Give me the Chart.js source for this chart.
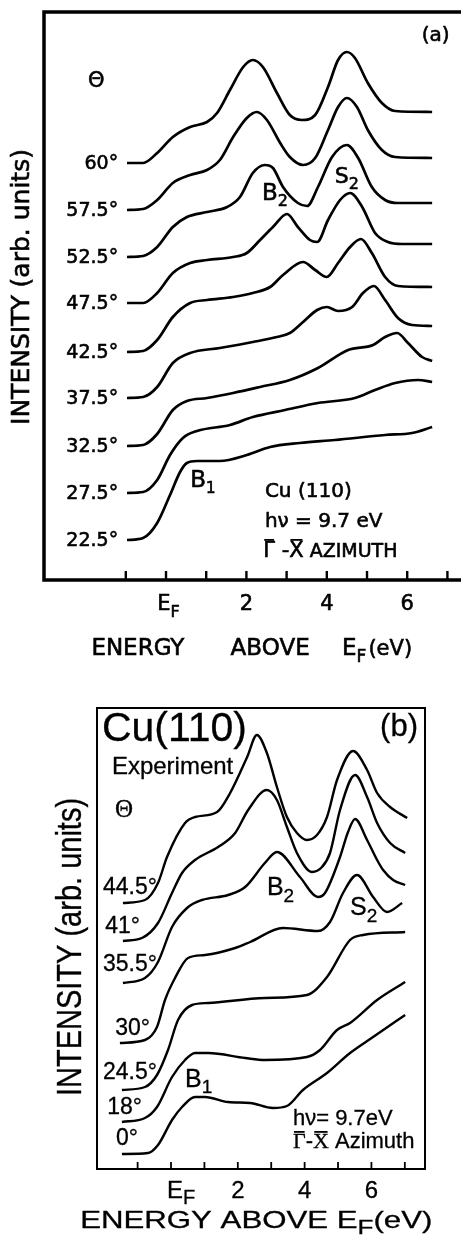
<!DOCTYPE html>
<html>
<head>
<meta charset="utf-8">
<script src="https://cdn.jsdelivr.net/npm/chart.js@4.4.1/dist/chart.umd.min.js"></script>
<style>
  html, body { margin: 0; padding: 0; background: #fff; }
  #wrap { position: relative; width: 461px; height: 1239px; overflow: hidden; }
  canvas { position: absolute; left: 0; }
  #chartA { top: 0; }
  #chartB { top: 680px; }
</style>
</head>
<body>
<div id="wrap">
  <canvas id="chartA" width="461" height="680"></canvas>
  <canvas id="chartB" width="461" height="559"></canvas>
</div>
<script>
// ---- panel (a): spectra as [energy above EF (eV), intensity above own baseline]
const anglesA = ['60°', '57.5°', '52.5°', '47.5°', '42.5°', '37.5°', '32.5°', '27.5°', '22.5°'];
const offsetsA = [41.7, 37.0, 32.3, 27.7, 22.8, 18.2, 13.4, 8.7, 4.0];

const a60 = [[-0.97,0],[-0.57,0],[-0.22,1.0],[0.17,2.6],[0.60,3.6],[1.02,4.1],[1.27,5.0],[1.59,7.3],[1.92,9.6],[2.16,10.3],[2.41,9.6],[2.76,7.0],[3.08,4.8],[3.38,4.3],[3.71,4.8],[4.03,7.6],[4.28,10.3],[4.50,11.1],[4.70,10.5],[5.02,8.0],[5.37,6.0],[5.70,5.2],[6.62,5.1]];
const a57 = [[-0.97,0],[-0.57,0.1],[-0.22,1.0],[0.17,2.7],[0.60,3.5],[1.02,4.0],[1.34,5.0],[1.67,7.3],[2.01,9.2],[2.26,9.8],[2.51,9.0],[2.84,6.7],[3.08,5.3],[3.41,4.5],[3.71,5.2],[4.03,8.0],[4.28,10.3],[4.50,11.2],[4.75,10.3],[5.02,8.0],[5.37,6.0],[5.70,5.3],[6.62,5.2]];
const a52 = [[-0.97,0],[-0.57,0.1],[-0.22,1.0],[0.17,3.0],[0.52,4.0],[1.02,4.5],[1.52,5.0],[1.84,6.0],[2.16,8.4],[2.46,9.2],[2.66,8.9],[2.91,7.0],[3.28,5.4],[3.51,5.1],[3.78,7.0],[4.13,10.0],[4.50,11.2],[4.78,9.9],[5.12,7.0],[5.45,5.7],[5.77,5.4],[6.62,5.4]];
const a47 = [[-0.97,0],[-0.57,0],[-0.22,1.0],[0.17,3.0],[0.60,4.0],[1.02,4.3],[1.67,4.6],[2.01,5.0],[2.34,6.3],[2.66,7.6],[3.01,8.9],[3.28,7.6],[3.58,6.3],[3.76,6.1],[4.03,8.3],[4.33,10.3],[4.58,11.0],[4.88,9.6],[5.20,7.0],[5.52,6.1],[5.87,5.9],[6.62,5.9]];
const a42 = [[-0.97,0],[-0.57,0.1],[-0.22,1.2],[0.17,3.5],[0.60,4.9],[1.02,5.2],[1.67,5.5],[2.16,5.9],[2.59,6.5],[2.91,7.7],[3.41,9.0],[3.71,8.2],[4.00,7.5],[4.28,8.9],[4.58,10.5],[4.85,11.3],[5.12,9.9],[5.45,7.5],[5.77,6.6],[6.62,6.5]];
const a37 = [[-0.97,0],[-0.57,0.1],[-0.22,1.1],[0.17,3.5],[0.60,4.5],[1.34,5.0],[2.16,5.6],[2.76,6.1],[3.08,6.5],[3.38,7.5],[3.76,8.8],[4.00,9.1],[4.28,8.7],[4.63,9.1],[4.90,10.5],[5.17,11.2],[5.45,9.8],[5.77,8.0],[6.12,7.3],[6.62,7.2]];
const a32 = [[-0.97,0],[-0.57,0.1],[-0.22,1.2],[0.17,3.6],[0.52,4.5],[1.02,4.8],[1.67,5.3],[2.34,5.9],[3.08,6.6],[3.78,7.8],[4.53,9.6],[5.15,10.1],[5.45,10.9],[5.75,11.3],[6.02,10.3],[6.37,8.9],[6.62,8.5]];
const a27 = [[-0.97,0],[-0.57,0.1],[-0.22,1.3],[0.10,3.8],[0.42,5.5],[0.77,6.2],[1.59,6.8],[2.16,7.6],[2.96,8.3],[3.78,9.0],[4.70,9.5],[5.20,10.3],[5.70,11.0],[6.27,11.3],[6.62,11.1]];
const a22 = [[-0.97,0],[-0.57,0.2],[-0.22,1.7],[0.10,4.5],[0.35,6.8],[0.52,7.7],[0.77,7.9],[1.34,7.9],[2.01,8.5],[2.59,9.3],[3.33,9.7],[4.20,10.0],[5.45,10.5],[6.12,10.7],[6.62,11.3]];
const specsA = [a60, a57, a52, a47, a42, a37, a32, a27, a22];

// ---- panel (b): experiment
const anglesB = ['44.5°', '41°', '35.5°', '30°', '24.5°', '18°', '0°'];
const offsetsB = [26.6, 22.8, 18.6, 12.6, 7.9, 4.7, 1.5];

const b44 = [[-1.44,0],[-0.78,0.3],[-0.39,2.0],[-0.12,4.6],[0.42,8.0],[0.72,8.6],[1.38,9.1],[1.77,11.0],[2.28,14.6],[2.57,16.8],[2.87,15.0],[3.17,11.6],[3.47,8.6],[3.77,7.0],[4.07,6.3],[4.37,6.8],[4.67,8.6],[4.97,12.3],[5.45,15.2],[5.87,13.3],[6.17,11.0],[6.56,9.6],[7.07,8.5]];
const b41 = [[-1.44,0],[-0.87,0.3],[-0.39,1.8],[0.03,4.8],[0.33,6.8],[0.72,8.1],[1.41,9.4],[1.92,10.8],[2.31,13.1],[2.87,15.1],[3.17,14.1],[3.47,11.4],[3.77,8.8],[4.22,6.9],[4.52,7.4],[4.76,8.8],[5.06,13.1],[5.51,16.6],[5.87,14.4],[6.17,11.8],[6.56,9.8],[7.01,8.8]];
const b35 = [[-1.44,0],[-0.78,0.5],[-0.39,2.1],[0.03,5.6],[0.48,7.5],[0.93,8.3],[1.71,8.8],[2.22,9.6],[2.81,12.0],[3.17,13.1],[3.86,10.6],[4.40,8.6],[4.61,9.0],[5.06,12.6],[5.30,15.1],[5.51,16.4],[5.87,14.3],[6.17,12.3],[6.35,11.3],[6.65,10.3],[7.01,9.8]];
const b30 = [[-1.53,0],[-0.78,0.3],[-0.42,1.6],[-0.18,4.3],[0.12,6.5],[0.51,8.5],[1.02,8.8],[1.92,9.5],[2.37,10.1],[3.35,11.5],[4.40,11.2],[4.76,12.1],[5.15,15.0],[5.57,16.8],[6.05,14.6],[6.47,13.1],[6.92,14.0]];
const b24 = [[-1.47,0],[-0.78,0.3],[-0.42,1.5],[-0.09,4.0],[0.21,7.0],[0.63,8.5],[1.11,8.7],[2.81,9.2],[4.07,9.5],[4.67,11.3],[5.36,15.0],[5.75,15.5],[7.01,15.8]];
const b18 = [[-1.47,0],[-0.78,0.4],[-0.42,1.5],[0.03,4.5],[0.42,6.2],[0.72,6.9],[1.11,6.9],[2.22,6.4],[2.81,6.2],[4.07,6.5],[4.46,7.2],[4.97,9.2],[5.36,9.9],[6.17,12.2],[7.01,14.0]];
const b0 = [[-1.47,0],[-0.69,0.1],[-0.39,0.9],[0.03,3.4],[0.33,4.7],[0.72,5.7],[1.02,5.7],[1.71,5.2],[2.37,5.1],[3.05,4.6],[3.47,4.8],[3.95,6.4],[4.67,8.1],[5.36,10.1],[6.05,11.7],[7.01,13.9]];
const specsB = [b44, b41, b35, b30, b24, b18, b0];

// axis ticks (eV) and labelled ones
const ticksE = [-1, 0, 1, 2, 3, 4, 5, 6, 7];
const tickLabels = ['2', '4', '6'];
const tickLabelVals = [2, 4, 6];

function toDatasets(specs, offsets, width) {
  return specs.map((s, i) => ({
    data: s.map(([e, v]) => ({ x: e, y: v + offsets[i] })),
    borderColor: '#000',
    borderWidth: width,
    pointRadius: 0,
    fill: false,
    cubicInterpolationMode: 'monotone'
  }));
}

// text drawn with a thin outline so it reads as heavy as the print
let heavy = 0;
function put(ctx, s, x, y) {
  ctx.fillText(s, x, y);
  if (heavy > 0) {
    ctx.lineWidth = heavy;
    ctx.strokeText(s, x, y);
  }
}

function subText(ctx, x, y, main, sub, font, subFont, dy) {
  ctx.font = font;
  put(ctx, main, x, y);
  const w = ctx.measureText(main).width;
  ctx.font = subFont;
  put(ctx, sub, x + w, y + dy);
  return w + ctx.measureText(sub).width;
}

function barText(ctx, x, y, ch, font, h) {
  ctx.font = font;
  put(ctx, ch, x, y);
  const w = ctx.measureText(ch).width;
  ctx.fillRect(x + w * 0.08, y - h, w * 0.84, 1.8);
  return w;
}

const decorA = {
  id: 'decorA',
  afterDraw(chart) {
    const { ctx, chartArea: ca, scales: { x, y } } = chart;
    const X = v => x.getPixelForValue(v), Y = v => y.getPixelForValue(v);
    ctx.save();
    ctx.strokeStyle = '#000';
    ctx.fillStyle = '#000';
    ctx.lineWidth = 3.5;
    ctx.beginPath();
    ctx.moveTo(ca.right + 4, ca.top);
    ctx.lineTo(ca.left, ca.top);
    ctx.lineTo(ca.left, ca.bottom);
    ctx.lineTo(ca.right + 4, ca.bottom);
    ctx.stroke();
    ctx.lineWidth = 2.4;
    ticksE.forEach(t => {
      ctx.beginPath();
      ctx.moveTo(X(t), ca.bottom);
      ctx.lineTo(X(t), ca.bottom - 9);
      ctx.stroke();
    });

    heavy = 0.6;
    const f = s => s + 'px "DejaVu Sans"';
    ctx.textBaseline = 'alphabetic';
    // tick labels
    ctx.textAlign = 'center';
    ctx.font = f(21);
    tickLabelVals.forEach((v, i) => put(ctx, tickLabels[i], X(v), Y(-3.0)));
    ctx.textAlign = 'left';
    subText(ctx, X(-0.22), Y(-3.0), 'E', 'F', f(21), f(16), 7);
    // x title
    ctx.textAlign = 'center';
    ctx.font = f(23);
    put(ctx, 'ENERGY', X(-0.70), Y(-7.5));
    put(ctx, 'ABOVE', X(2.59), Y(-7.5));
    ctx.textAlign = 'left';
    let w = subText(ctx, X(4.38), Y(-7.5), 'E', 'F', f(23), f(17), 7);
    ctx.font = f(21);
    put(ctx, '(eV)', X(4.38) + w + 2, Y(-7.5));

    // y title
    ctx.save();
    ctx.translate(X(-3.56), Y(29.3));
    ctx.rotate(-Math.PI / 2);
    ctx.textAlign = 'center';
    ctx.textBaseline = 'middle';
    ctx.font = f(25);
    put(ctx, 'INTENSITY (arb. units)', 0, 0);
    ctx.restore();

    // angle labels
    ctx.textAlign = 'right';
    ctx.textBaseline = 'middle';
    ctx.font = f(19);
    anglesA.forEach((a, i) => put(ctx, a, X(-1.19), Y(offsetsA[i]) + 1));
    ctx.textBaseline = 'alphabetic';
    ctx.textAlign = 'left';
    ctx.font = f(21);
    put(ctx, 'Θ', X(-1.94), Y(49.3));
    ctx.font = f(20);
    put(ctx, '(a)', X(6.36), Y(53.9));

    subText(ctx, X(2.39), Y(38.0), 'B', '2', f(23), f(16), 6);
    subText(ctx, X(4.20), Y(39.7), 'S', '2', f(22), f(16), 6);
    subText(ctx, X(0.60), Y(9.3), 'B', '1', f(23), f(15), 6);

    ctx.font = f(20);
    put(ctx, 'Cu (110)', X(2.46), Y(8.3));
    put(ctx, 'hν = 9.7 eV', X(2.46), Y(5.3));
    let px = X(2.42);
    const by = Y(2.3);
    px += barText(ctx, px, by, 'Γ', f(21), 18);
    ctx.font = f(21);
    put(ctx, ' -', px, by);
    px += ctx.measureText(' -').width;
    px += barText(ctx, px, by, 'X', f(21), 18);
    ctx.font = f(19);
    put(ctx, ' AZIMUTH', px, by);
    heavy = 0;
    ctx.restore();
  }
};

const decorB = {
  id: 'decorB',
  afterDraw(chart) {
    const { ctx, chartArea: ca, scales: { x, y } } = chart;
    const X = v => x.getPixelForValue(v), Y = v => y.getPixelForValue(v);
    ctx.save();
    ctx.strokeStyle = '#000';
    ctx.fillStyle = '#000';
    ctx.lineWidth = 2;
    ctx.strokeRect(ca.left, ca.top, ca.right - ca.left, ca.bottom - ca.top);
    ctx.lineWidth = 1.8;
    ticksE.forEach(t => {
      ctx.beginPath();
      ctx.moveTo(X(t), ca.bottom);
      ctx.lineTo(X(t), ca.bottom - 7);
      ctx.stroke();
    });

    heavy = 0.3;
    const f = s => s + 'px "Liberation Sans"';
    const serif = s => s + 'px "Liberation Serif"';
    ctx.textBaseline = 'alphabetic';
    ctx.textAlign = 'center';
    ctx.font = f(24);
    tickLabelVals.forEach((v, i) => put(ctx, tickLabels[i], X(v), Y(-2.9)));
    ctx.textAlign = 'left';
    subText(ctx, X(-0.12), Y(-2.9), 'E', 'F', f(24), f(20), 6);

    // x title, stretched like the print
    ctx.save();
    ctx.translate(X(-2.72), Y(-5.9));
    ctx.scale(1.3, 1);
    let w = subText(ctx, 0, 0, 'ENERGY ABOVE E', 'F', f(24), f(20), 6);
    ctx.font = f(24);
    put(ctx, '(eV)', w, 0);
    ctx.restore();

    // y title
    ctx.save();
    ctx.translate(X(-2.99), Y(22.2));
    ctx.rotate(-Math.PI / 2);
    ctx.scale(1, 1.18);
    ctx.textAlign = 'center';
    ctx.textBaseline = 'middle';
    ctx.font = f(29);
    put(ctx, 'INTENSITY (arb. units)', 0, 0);
    ctx.restore();

    ctx.font = f(41);
    put(ctx, 'Cu(110)', X(-2.07), Y(42.8));
    ctx.font = f(31);
    put(ctx, '(b)', X(6.26), Y(43.3));
    ctx.font = f(24);
    put(ctx, 'Experiment', X(-1.77), Y(39.5));
    ctx.font = serif(25);
    put(ctx, 'Θ', X(-1.68), Y(35.2));

    // angle labels
    const labelAtB = [[-0.42, 28.1], [-0.93, 24.2], [-0.42, 20.4], [-0.63, 14.0], [-0.42, 9.6], [-0.87, 6.1], [-0.99, 3.0]];
    ctx.textAlign = 'right';
    ctx.textBaseline = 'middle';
    ctx.font = f(23);
    anglesB.forEach((a, i) => put(ctx, a, X(labelAtB[i][0]), Y(labelAtB[i][1])));
    ctx.textAlign = 'left';
    ctx.textBaseline = 'alphabetic';

    subText(ctx, X(2.87), Y(27.4), 'B', '2', f(25), f(19), 7);
    subText(ctx, X(5.36), Y(25.4), 'S', '2', f(25), f(19), 7);
    subText(ctx, X(0.42), Y(8.2), 'B', '1', f(25), f(19), 6);

    ctx.font = f(22);
    put(ctx, 'hν= 9.7eV', X(3.65), Y(4.4));
    let px = X(3.65);
    const by = Y(2.1);
    px += barText(ctx, px, by, 'Γ', serif(22), 17);
    ctx.font = f(22);
    put(ctx, '-', px, by);
    px += ctx.measureText('-').width;
    px += barText(ctx, px, by, 'X', serif(22), 17);
    ctx.font = f(22);
    put(ctx, ' Azimuth', px, by);
    heavy = 0;
    ctx.restore();
  }
};

function baseOptions(pad, xr, yr) {
  return {
    responsive: false,
    animation: false,
    devicePixelRatio: 1,
    layout: { padding: pad },
    plugins: { legend: { display: false }, tooltip: { enabled: false } },
    scales: {
      x: { type: 'linear', min: xr[0], max: xr[1], display: false },
      y: { type: 'linear', min: yr[0], max: yr[1], display: false }
    }
  };
}

new Chart(document.getElementById('chartA'), {
  type: 'line',
  data: { datasets: toDatasets(specsA, offsetsA, 2.7) },
  options: baseOptions({ left: 44, top: 12, right: 0, bottom: 100 }, [-3.035, 7.338], [0, 56.8]),
  plugins: [decorA]
});

new Chart(document.getElementById('chartB'), {
  type: 'line',
  data: { datasets: toDatasets(specsB, offsetsB, 2.4) },
  options: baseOptions({ left: 97, top: 28, right: 36, bottom: 70 }, [-2.216, 7.604], [0, 46.1]),
  plugins: [decorB]
});
</script>
</body>
</html>
